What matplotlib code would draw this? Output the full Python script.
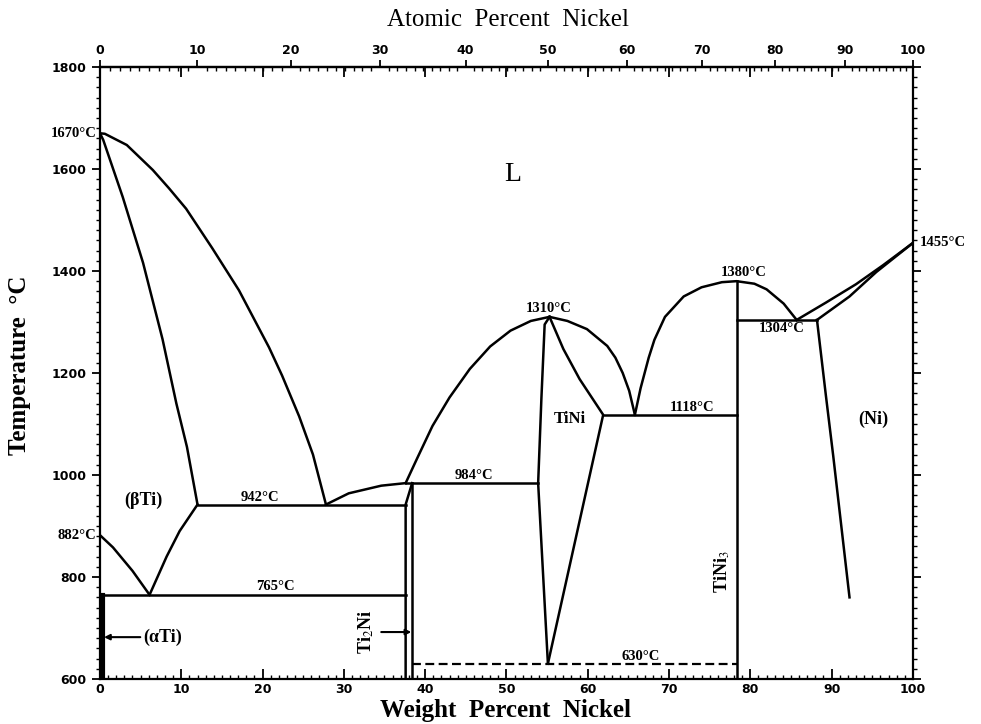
import numpy as np
import matplotlib
matplotlib.use('Agg')
import matplotlib.pyplot as plt
from matplotlib.ticker import MultipleLocator

plt.rcParams['mathtext.fontset'] = 'stix'

# masses molaires, pour l'echelle du haut (% atomique)
M_TI = 47.867
M_NI = 58.693

liq_ti_wt = [0, 0.6, 3.3, 6.5, 8.5, 10.6, 13.8, 17.1, 20.8, 22.4, 24.5, 26.2, 27.8]
liq_ti_T = [1670, 1669, 1647, 1598, 1562, 1522, 1445, 1362, 1250, 1195, 1115, 1040, 942]

sol_beta_wt = [0, 0.4, 2.8, 5.3, 7.7, 9.4, 10.7, 12.0]
sol_beta_T = [1670, 1657, 1545, 1416, 1266, 1140, 1055, 942]

solv_beta_wt = [12.0, 9.8, 8.2, 6.1]
solv_beta_T = [942, 890, 840, 765]

transus_wt = [0, 1.6, 4.0, 6.1]
transus_T = [882, 858, 812, 765]

alpha_wt = [0.4, 0.4]
alpha_T = [600, 765]

liq_eut_wt = [27.8, 30.6, 34.6, 37.6]
liq_eut_T = [942, 964, 979, 984]

liq_tini_l_wt = [37.6, 39.0, 40.9, 43.0, 45.5, 48.0, 50.5, 53.0, 55.3]
liq_tini_l_T = [984, 1032, 1096, 1152, 1208, 1252, 1283, 1302, 1310]

liq_tini_r_wt = [55.3, 57.5, 59.9, 62.4, 63.4, 64.3, 65.1, 65.8]
liq_tini_r_T = [1310, 1302, 1286, 1253, 1230, 1200, 1165, 1118]

tini_l_wt = [55.3, 54.7, 54.3, 53.9, 55.1]
tini_l_T = [1310, 1295, 1150, 984, 630]

tini_r_wt = [55.3, 57.0, 59.0, 61.9, 55.1]
tini_r_T = [1310, 1247, 1188, 1118, 630]

ti2ni_l_wt = [37.6, 37.6, 38.4]
ti2ni_l_T = [600, 942, 984]
ti2ni_r_wt = [38.4, 38.4]
ti2ni_r_T = [600, 984]

liq_tini3_wt = [65.8, 66.5, 67.5, 68.2, 69.5, 71.8, 74.0, 76.5, 78.3, 80.5, 82.0, 84.1, 85.7]
liq_tini3_T = [1118, 1170, 1230, 1265, 1310, 1350, 1368, 1378, 1380, 1375, 1364, 1336, 1304]

tini3_wt = [78.3, 78.3]
tini3_T = [600, 1380]

liq_ni_wt = [85.7, 89.3, 93.0, 96.3, 100]
liq_ni_T = [1304, 1338, 1374, 1411, 1455]

sol_ni_wt = [88.2, 92.2, 95.5, 100]
sol_ni_T = [1304, 1350, 1398, 1455]

solv_ni_wt = [88.2, 89.3, 90.2, 92.2]
solv_ni_T = [1304, 1155, 1037, 760]

# paliers invariants : temperature, debut, fin
paliers_T = [942, 765, 984, 1118, 1304]
paliers_debut = [12.0, 0, 37.6, 61.9, 78.3]
paliers_fin = [37.6, 37.6, 53.9, 78.3, 88.2]

palier_630 = [630, 38.4, 78.3]


def wt2at(w):
    w = np.asarray(w, dtype=float)
    with np.errstate(divide='ignore', invalid='ignore'):
        n_ni = w / M_NI
        n_ti = (100 - w) / M_TI
        return 100 * n_ni / (n_ni + n_ti)


def at2wt(a):
    a = np.asarray(a, dtype=float)
    with np.errstate(divide='ignore', invalid='ignore'):
        m_ni = a * M_NI
        m_ti = (100 - a) * M_TI
        return 100 * m_ni / (m_ni + m_ti)


fig = plt.figure(figsize=(9.81, 7.24), dpi=100)
ax = fig.add_axes([0.1019, 0.0622, 0.8287, 0.8453])

lw = 1.8
courbes = [
    (liq_ti_wt, liq_ti_T), (sol_beta_wt, sol_beta_T), (solv_beta_wt, solv_beta_T),
    (transus_wt, transus_T), (liq_eut_wt, liq_eut_T), (liq_tini_l_wt, liq_tini_l_T),
    (liq_tini_r_wt, liq_tini_r_T), (tini_l_wt, tini_l_T), (tini_r_wt, tini_r_T),
    (ti2ni_l_wt, ti2ni_l_T), (ti2ni_r_wt, ti2ni_r_T), (liq_tini3_wt, liq_tini3_T),
    (tini3_wt, tini3_T), (liq_ni_wt, liq_ni_T), (sol_ni_wt, sol_ni_T),
    (solv_ni_wt, solv_ni_T),
]
for xs, ys in courbes:
    ax.plot(xs, ys, color='black', lw=lw, solid_joinstyle='round')
ax.plot(alpha_wt, alpha_T, color='black', lw=3)

for T, a, b in zip(paliers_T, paliers_debut, paliers_fin):
    ax.plot([a, b], [T, T], color='black', lw=lw)
ax.plot([palier_630[1], palier_630[2]], [palier_630[0], palier_630[0]],
        color='black', lw=1.6, ls=(0, (4, 2)))

ax.set_xlim(0, 100)
ax.set_ylim(600, 1800)

# ticks
tick_font = dict(fontsize=9, fontweight='bold')
ax.set_xticks(range(0, 101, 10))
ax.set_xticklabels([str(v) for v in range(0, 101, 10)], **tick_font)
ax.set_yticks(range(600, 1801, 200))
ax.set_yticklabels([str(v) for v in range(600, 1801, 200)], **tick_font)
ax.xaxis.set_minor_locator(MultipleLocator(1))
ax.yaxis.set_minor_locator(MultipleLocator(20))
ax.tick_params(axis='x', which='major', direction='in', length=7, width=1.3, top=True, pad=3)
ax.tick_params(axis='x', which='minor', direction='in', length=3, width=1, top=False)
ax.tick_params(axis='y', which='major', direction='out', length=6, width=1.3, right=True)
ax.tick_params(axis='y', which='minor', direction='out', length=3, width=1, right=True)
for s in ax.spines.values():
    s.set_linewidth(1.6)

sec = ax.secondary_xaxis('top', functions=(wt2at, at2wt))
sec.set_xticks(range(0, 101, 10))
sec.set_xticklabels([str(v) for v in range(0, 101, 10)], **tick_font)
sec.xaxis.set_minor_locator(MultipleLocator(1))
sec.tick_params(which='major', direction='out', length=5, width=1.3, pad=2)
sec.tick_params(which='minor', direction='in', length=3, width=1)
sec.spines['top'].set_linewidth(1.6)

# textes dans le diagramme
serif = 'Liberation Serif'
temp_font = dict(family=serif, fontsize=10.5, fontweight='bold')
ax.text(19.7, 944, '942°C', ha='center', va='bottom', **temp_font)
ax.text(21.6, 768, '765°C', ha='center', va='bottom', **temp_font)
ax.text(46.0, 986, '984°C', ha='center', va='bottom', **temp_font)
ax.text(55.2, 1313, '1310°C', ha='center', va='bottom', **temp_font)
ax.text(72.8, 1120, '1118°C', ha='center', va='bottom', **temp_font)
ax.text(79.2, 1385, '1380°C', ha='center', va='bottom', **temp_font)
ax.text(83.8, 1299, '1304°C', ha='center', va='top', **temp_font)
ax.text(66.5, 632, '630°C', ha='center', va='bottom', **temp_font)
ax.text(-0.4, 1670, '1670°C', ha='right', va='center', **temp_font)
ax.text(-0.4, 882, '882°C', ha='right', va='center', **temp_font)
ax.text(100.8, 1455, '1455°C', ha='left', va='center', **temp_font)

ax.text(50.8, 1590, 'L', family=serif, fontsize=20, ha='center', va='center')
ax.text(5.3, 950, '(βTi)', family=serif, fontsize=13, fontweight='bold', ha='center', va='center')
ax.text(57.8, 1110, 'TiNi', family=serif, fontsize=12, fontweight='bold', ha='center', va='center')
ax.text(95.1, 1110, '(Ni)', family=serif, fontsize=13, fontweight='bold', ha='center', va='center')
ax.annotate('(αTi)', xy=(0.5, 682), xytext=(5.3, 682), family=serif, fontsize=13,
            fontweight='bold', ha='left', va='center',
            arrowprops=dict(arrowstyle='-|>', lw=1.5, color='black', mutation_scale=8,
                            shrinkA=0, shrinkB=0))
ax.text(32.7, 692, 'Ti$_2$Ni', family=serif, fontsize=13, fontweight='bold', rotation=90,
        ha='center', va='center')
ax.annotate('', xy=(38.3, 692), xytext=(34.6, 692),
            arrowprops=dict(arrowstyle='-|>', lw=1.5, color='black', mutation_scale=8,
                            shrinkA=0, shrinkB=0))
ax.text(76.6, 810, 'TiNi$_3$', family=serif, fontsize=13, fontweight='bold', rotation=90,
        ha='center', va='center')

# titres des axes
fig.text(508 / 981, 1 - 20 / 724, 'Atomic  Percent  Nickel', family=serif, fontsize=18,
         ha='center', va='center')
fig.text(506 / 981, 1 - 711 / 724, 'Weight  Percent  Nickel', family=serif, fontsize=18,
         fontweight='bold', ha='center', va='center')
fig.text(20 / 981, 1 - 365 / 724, 'Temperature  °C', family=serif, fontsize=18,
         fontweight='bold', rotation=90, ha='center', va='center')

fig.savefig('out.png', dpi=100, facecolor='white')
